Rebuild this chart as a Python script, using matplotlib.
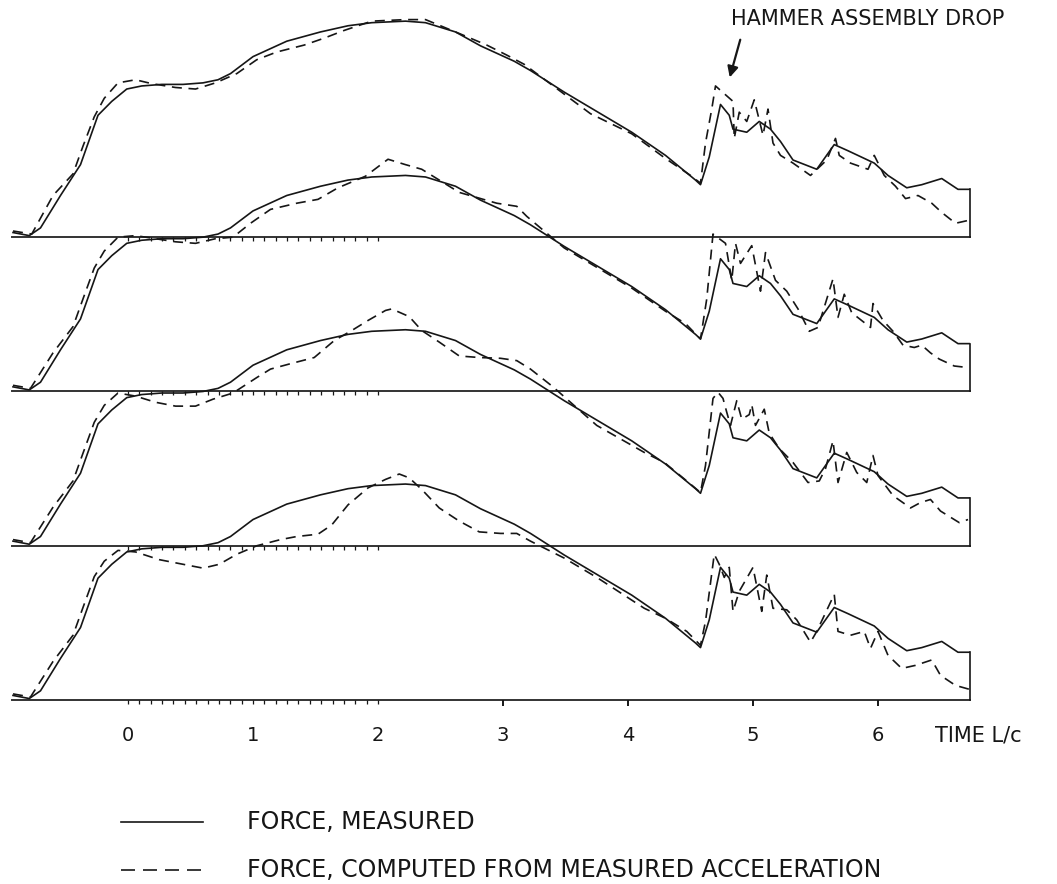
import numpy as np
import matplotlib
matplotlib.use("Agg")
import matplotlib.pyplot as plt

# time in L/c, force in units of the trace spacing (one baseline step = 1.0)
measured_t = [-0.92, -0.79, -0.70, -0.54, -0.38, -0.24, -0.13, -0.01, 0.11, 0.27, 0.44, 0.60,
              0.72, 0.82, 1.00, 1.27, 1.54, 1.76, 1.95, 2.22, 2.38, 2.62, 2.82, 3.09, 3.22, 3.49,
              3.76, 4.03, 4.30, 4.54, 4.58, 4.65, 4.74, 4.81, 4.84, 4.95, 5.05, 5.14, 5.22, 5.32,
              5.51, 5.65, 5.76, 5.97, 6.08, 6.23, 6.35, 6.51, 6.64, 6.73]
measured_f = [0.03, 0.01, 0.06, 0.27, 0.47, 0.79, 0.88, 0.96, 0.98, 0.99, 0.99, 1.00,
              1.02, 1.06, 1.17, 1.27, 1.33, 1.37, 1.39, 1.40, 1.39, 1.33, 1.24, 1.14, 1.08, 0.94,
              0.81, 0.68, 0.53, 0.37, 0.34, 0.52, 0.86, 0.79, 0.70, 0.68, 0.75, 0.70, 0.62, 0.50,
              0.44, 0.60, 0.56, 0.48, 0.40, 0.32, 0.34, 0.38, 0.31, 0.31]

comp1_t = [-0.92, -0.77, -0.60, -0.44, -0.36, -0.27, -0.19, -0.08, 0.06, 0.19, 0.38, 0.54, 0.70,
           0.87, 1.03, 1.19, 1.41, 1.57, 1.73, 1.95, 2.22, 2.38, 2.65, 2.87, 3.03, 3.17, 3.70,
           4.03, 4.30, 4.50, 4.58, 4.62, 4.67, 4.70, 4.77, 4.84, 4.85, 4.89, 4.95, 5.01, 5.08,
           5.12, 5.16, 5.22, 5.32, 5.46, 5.59, 5.66, 5.69, 5.78, 5.92, 5.97, 6.05, 6.14, 6.22,
           6.32, 6.43, 6.51, 6.62, 6.73]
comp1_f = [0.04, 0.02, 0.27, 0.41, 0.59, 0.78, 0.90, 1.00, 1.02, 0.995, 0.97, 0.96, 1.00,
           1.06, 1.15, 1.20, 1.245, 1.29, 1.34, 1.40, 1.41, 1.41, 1.32, 1.245, 1.18, 1.12, 0.80,
           0.67, 0.51, 0.40, 0.35, 0.61, 0.83, 0.98, 0.93, 0.88, 0.64, 0.81, 0.75, 0.89, 0.66,
           0.83, 0.61, 0.53, 0.48, 0.40, 0.50, 0.64, 0.53, 0.48, 0.44, 0.53, 0.40, 0.33, 0.25,
           0.27, 0.22, 0.16, 0.09, 0.11]

comp2_t = [-0.92, -0.78, -0.60, -0.44, -0.36, -0.27, -0.19, -0.08, 0.06, 0.22, 0.38, 0.54, 0.70,
           0.84, 0.98, 1.14, 1.35, 1.52, 1.68, 1.90, 2.08, 2.22, 2.35, 2.65, 2.95, 3.11, 3.19,
           3.49, 3.76, 4.03, 4.30, 4.46, 4.58, 4.63, 4.68, 4.78, 4.83, 4.86, 4.90, 4.99, 5.06,
           5.10, 5.18, 5.27, 5.36, 5.45, 5.52, 5.64, 5.68, 5.73, 5.79, 5.94, 5.96, 6.04, 6.12,
           6.20, 6.29, 6.35, 6.42, 6.49, 6.61, 6.72]
comp2_f = [0.04, 0.02, 0.25, 0.42, 0.60, 0.80, 0.91, 1.00, 1.01, 0.99, 0.97, 0.96, 0.99,
           1.00, 1.09, 1.18, 1.22, 1.245, 1.32, 1.395, 1.505, 1.47, 1.44, 1.29, 1.22, 1.20, 1.135,
           0.93, 0.80, 0.67, 0.52, 0.44, 0.34, 0.60, 1.02, 0.96, 0.72, 0.96, 0.83, 0.945, 0.65,
           0.90, 0.72, 0.65, 0.535, 0.39, 0.415, 0.73, 0.48, 0.63, 0.51, 0.415, 0.57, 0.46, 0.39,
           0.30, 0.285, 0.30, 0.25, 0.21, 0.165, 0.155]

comp3_t = [-0.92, -0.78, -0.60, -0.44, -0.36, -0.27, -0.19, -0.08, 0.06, 0.22, 0.38, 0.54, 0.68,
           0.84, 1.03, 1.14, 1.30, 1.49, 1.65, 1.79, 1.92, 2.06, 2.11, 2.25, 2.35, 2.49, 2.65,
           2.81, 2.98, 3.11, 3.22, 3.40, 3.75, 4.13, 4.29, 4.47, 4.58, 4.62, 4.68, 4.72, 4.76,
           4.79, 4.82, 4.87, 4.91, 4.97, 4.99, 5.02, 5.09, 5.13, 5.21, 5.32, 5.44, 5.53, 5.58,
           5.64, 5.68, 5.75, 5.83, 5.91, 5.96, 6.00, 6.12, 6.26, 6.34, 6.42, 6.50, 6.56, 6.65,
           6.72]
comp3_f = [0.04, 0.02, 0.25, 0.42, 0.60, 0.80, 0.91, 0.99, 0.97, 0.93, 0.905, 0.905, 0.95,
           0.99, 1.09, 1.145, 1.18, 1.22, 1.33, 1.395, 1.46, 1.525, 1.535, 1.485, 1.395, 1.32, 1.23,
           1.22, 1.215, 1.20, 1.145, 1.03, 0.78, 0.605, 0.54, 0.42, 0.345, 0.52, 0.955, 0.995, 0.955,
           0.865, 0.78, 0.94, 0.82, 0.85, 0.915, 0.78, 0.885, 0.73, 0.63, 0.54, 0.41, 0.42, 0.50,
           0.68, 0.41, 0.605, 0.475, 0.41, 0.585, 0.455, 0.325, 0.245, 0.28, 0.30, 0.225, 0.195, 0.15,
           0.17]

comp4_t = [-0.92, -0.78, -0.60, -0.44, -0.36, -0.27, -0.19, -0.08, 0.06, 0.25, 0.44, 0.60, 0.73,
           0.87, 1.03, 1.22, 1.35, 1.52, 1.63, 1.76, 1.92, 2.06, 2.17, 2.25, 2.35, 2.49, 2.65,
           2.81, 2.98, 3.11, 3.22, 3.49, 3.76, 4.13, 4.30, 4.47, 4.58, 4.62, 4.69, 4.73, 4.77,
           4.81, 4.84, 4.89, 5.00, 5.07, 5.11, 5.16, 5.27, 5.35, 5.46, 5.51, 5.65, 5.68, 5.78,
           5.89, 5.94, 6.00, 6.08, 6.19, 6.30, 6.43, 6.50, 6.62, 6.73]
comp4_f = [0.04, 0.02, 0.25, 0.42, 0.60, 0.80, 0.90, 0.97, 0.96, 0.91, 0.88, 0.855, 0.88,
           0.945, 1.00, 1.04, 1.06, 1.075, 1.135, 1.265, 1.375, 1.43, 1.465, 1.44, 1.365, 1.245, 1.16,
           1.09, 1.08, 1.08, 1.03, 0.92, 0.79, 0.595, 0.53, 0.445, 0.355, 0.51, 0.945, 0.88, 0.795,
           0.86, 0.575, 0.705, 0.86, 0.575, 0.81, 0.595, 0.585, 0.52, 0.375, 0.445, 0.685, 0.445, 0.42,
           0.445, 0.335, 0.445, 0.29, 0.205, 0.225, 0.26, 0.16, 0.095, 0.07]

tick_values = [0, 1, 2, 3, 4, 5, 6]
major_ticks = [3, 4, 5, 6]
minor_ticks = np.linspace(0, 2, 23)
offsets = [3, 2, 1, 0]
t_start, t_end = -0.93, 6.735

ink = "#161616"
plt.rcParams['font.family'] = ['DejaVu Sans']

fig = plt.figure(figsize=(10.57, 8.84), dpi=100)
ax = fig.add_axes([0, 0, 1, 1])
ax.set_xlim(-1.024, 7.432)
ax.set_ylim(-1.192, 4.537)
ax.axis('off')

computed = [(comp1_t, comp1_f), (comp2_t, comp2_f), (comp3_t, comp3_f), (comp4_t, comp4_f)]
for off, (ct, cf) in zip(offsets, computed):
    ax.plot([t_start, t_end], [off, off], color="#333333", lw=1.4)
    ax.plot([t_end, t_end], [off, off + measured_f[-1]], color=ink, lw=1.2)
    ax.vlines(minor_ticks, off - 0.026, off, color=ink, lw=0.9)
    ax.plot(measured_t, np.array(measured_f) + off, color=ink, lw=1.2)
    ax.plot(ct, np.array(cf) + off, color=ink, lw=1.2, dashes=(6, 4))

ax.vlines(major_ticks, -0.04, 0, color=ink, lw=1.4)
for v in tick_values:
    ax.text(v, -0.227, str(v), ha='center', va='center', fontsize=14, color=ink)
ax.text(6.456, -0.227, "TIME L/c", ha='left', va='center', fontsize=15, color=ink)

ax.annotate("", xy=(4.808, 4.018), xytext=(4.904, 4.297),
            arrowprops=dict(arrowstyle='-|>', color=ink, lw=1.6, mutation_scale=16))
ax.text(5.92, 4.416, "HAMMER ASSEMBLY DROP", ha='center', va='center', fontsize=15, color=ink)

# legend
ax.plot([-0.056, 0.6], [-0.791, -0.791], color=ink, lw=1.2)
ax.plot([-0.056, 0.6], [-1.102, -1.102], color=ink, lw=1.2, dashes=(8.4, 4.8))
ax.text(0.952, -0.791, "FORCE, MEASURED", ha='left', va='center', fontsize=17, color=ink)
ax.text(0.952, -1.102, "FORCE, COMPUTED FROM MEASURED ACCELERATION", ha='left', va='center',
        fontsize=17, color=ink)

fig.savefig("out.png", dpi=100, facecolor="white")
